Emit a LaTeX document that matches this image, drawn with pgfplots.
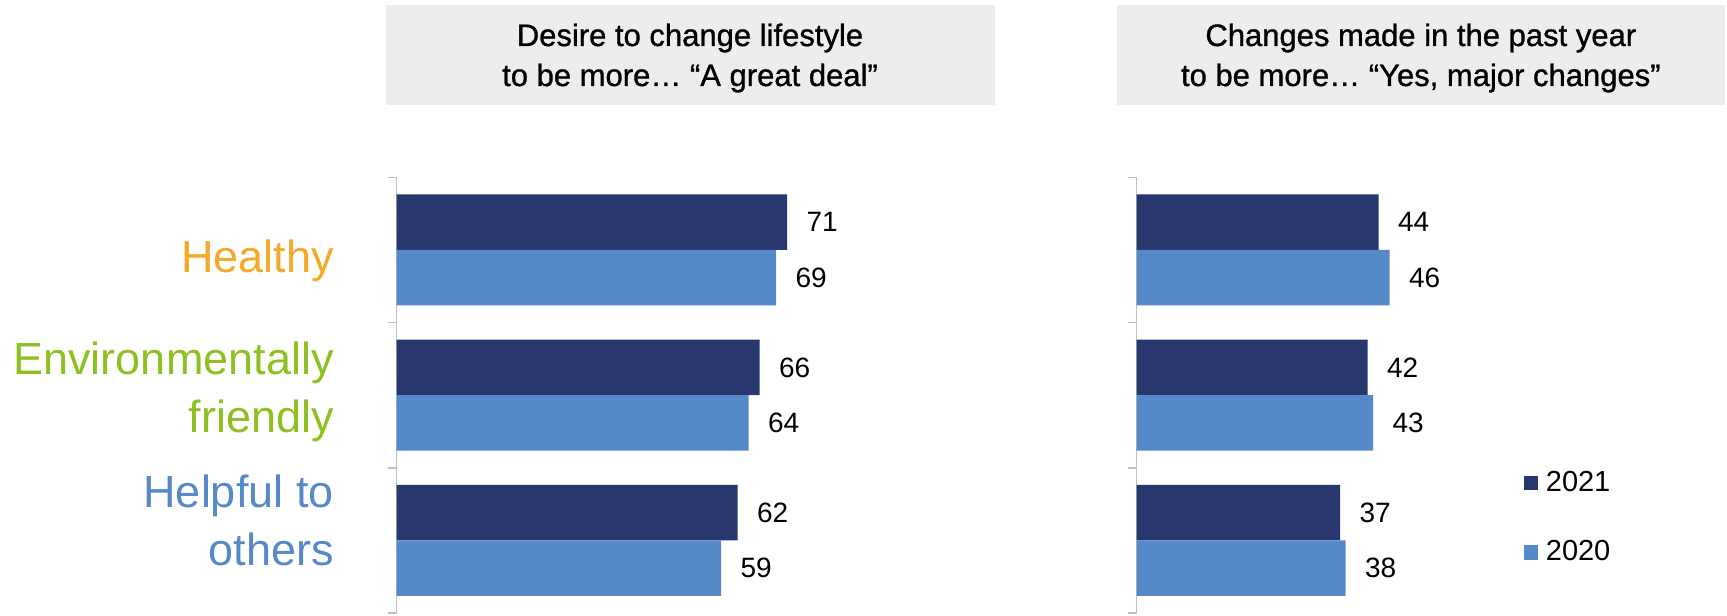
\documentclass[border=0pt]{standalone}
\usepackage{pgfplots}
\pgfplotsset{compat=1.18}
\usepackage{fontspec}
\setmainfont{Liberation Sans}
\newfontfamily\titlefont[FakeBold=1]{Liberation Sans}
\definecolor{dark}{HTML}{29376F}
\definecolor{light}{HTML}{5589C8}
\definecolor{boxgray}{HTML}{EDEDED}
\definecolor{orangec}{HTML}{F5A82A}
\definecolor{greenc}{HTML}{8DC121}
\definecolor{bluec}{HTML}{5589C8}
\definecolor{axgray}{HTML}{BFBFBF}
\pgfplotsset{
  panel/.style={
    scale only axis, width=275pt, height=217.9pt,
    anchor=north west,
    xbar, bar width=27.75pt,
    xmin=0, xmax=100, ymin=-0.5, ymax=2.5,
    axis x line=none, axis y line*=left,
    y axis line style={draw=axgray, line width=0.8pt},
    ytick={-0.5,0.5,1.5,2.5}, yticklabels={},
    major tick length=4.2pt, tick align=outside,
    tick style={draw=axgray, line width=0.8pt},
    clip=false,
    /pgf/number format/assume math mode=true,
    nodes near coords,
    point meta=x,
    nodes near coords style={anchor=west, inner sep=0pt, xshift=9.5pt,
      font=\fontsize{14}{16}\selectfont, text=black},
  }
}
\begin{document}
\begin{tikzpicture}
% title boxes
\fill[boxgray] (192.75pt,-2.75pt) rectangle (497.3pt,-52.3pt);
\fill[boxgray] (558.4pt,-2.75pt) rectangle (862.4pt,-52.3pt);
\begin{scope}[every node/.style={inner sep=0pt, font=\titlefont\fontsize{15.5}{18}\selectfont}]
\node[anchor=base] at (345pt,-23pt) {Desire to change lifestyle};
\node[anchor=base] at (345pt,-43pt) {to be more… “A great deal”};
\node[anchor=base] at (710.4pt,-23pt) {Changes made in the past year};
\node[anchor=base] at (710.4pt,-43pt) {to be more… “Yes, major changes”};
\end{scope}
% category labels
\begin{scope}[every node/.style={inner sep=0pt, anchor=base east, font=\fontsize{22.5}{26}\selectfont}]
\node[text=orangec] at (167pt,-136.3pt) {Healthy};
\node[text=greenc] at (167pt,-187pt) {Environmentally};
\node[text=greenc] at (167pt,-216.2pt) {friendly};
\node[text=bluec] at (167pt,-253.7pt) {Helpful to};
\node[text=bluec] at (167pt,-282.5pt) {others};
\end{scope}
% left panel
\begin{axis}[panel, at={(198.3pt,-88.65pt)}]
\addplot[fill=dark, draw=none, bar shift=13.875pt] coordinates {(71,2) (66,1) (62,0)};
\addplot[fill=light, draw=none, bar shift=-13.875pt] coordinates {(69,2) (64,1) (59,0)};
\end{axis}
% right panel
\begin{axis}[panel, at={(568.3pt,-88.65pt)},
  legend style={draw=none, fill=none, at={(0.703,0.326)}, anchor=north west,
    inner sep=0pt, row sep=23pt,
    nodes={inner sep=0pt, font=\fontsize{14.5}{16}\selectfont},
    /tikz/every odd column/.append style={column sep=3.9pt}},
  legend cell align=left,
  legend image code/.code={\fill[#1] (0pt,-3.6pt) rectangle (7.2pt,3.6pt);},
]
\addplot[fill=dark, draw=none, bar shift=13.875pt] coordinates {(44,2) (42,1) (37,0)};
\addplot[fill=light, draw=none, bar shift=-13.875pt] coordinates {(46,2) (43,1) (38,0)};
\legend{2021,2020}
\end{axis}
\pgfresetboundingbox
\path[use as bounding box] (0,0) rectangle (863.5pt,-307.5pt);
\end{tikzpicture}
\end{document}
